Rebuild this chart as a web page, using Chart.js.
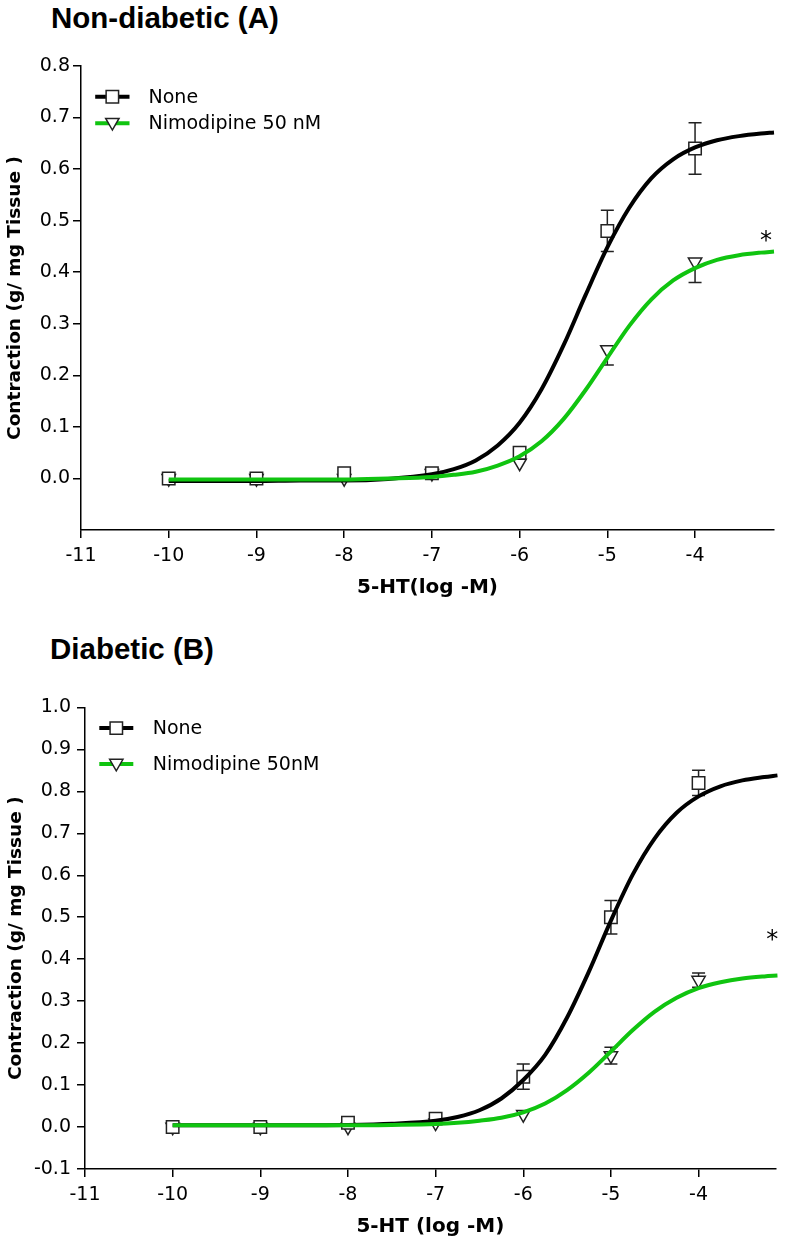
<!DOCTYPE html>
<html lang="en">
<head>
  <title>5-HT contraction curves</title>
  <meta charset="utf-8">
  <script src="https://cdn.jsdelivr.net/npm/chart.js@4.4.1/dist/chart.umd.min.js"></script>
  <style>
    body { margin: 0; background: #fff; width: 786px; height: 1242px; position: relative; overflow: hidden; }
    .ttl { position: absolute; margin: 0; font: bold 29.5px "Liberation Sans", Arial, sans-serif; line-height: 29px; color: #000; }
    .box { position: absolute; left: 0; width: 786px; }
  </style>
</head>
<body>

  <h2 class="ttl" style="left: 51px; top: 3px;">Non-diabetic (A)</h2>
  <div class="box" style="top: 50px; height: 566px;"><canvas id="chartA" width="786" height="566"></canvas></div>

  <h2 class="ttl" style="left: 50px; top: 634px;">Diabetic (B)</h2>
  <div class="box" style="top: 690px; height: 552px;"><canvas id="chartB" width="786" height="552"></canvas></div>

  <script>
    // concentrations tested (log M)
    var doses = [-10, -9, -8, -7, -6, -5, -4];

    // measured means / SEM, panel A (non-diabetic)
    var noneA = [0.0, 0.0, 0.01, 0.01, 0.05, 0.48, 0.64];
    var noneSemA = [0, 0, 0, 0, 0, 0.04, 0.05];
    var nimoA = [0.0, 0.0, 0.0, 0.01, 0.03, 0.25, 0.42];
    var nimoSemA = [0, 0, 0, 0, 0, 0.03, 0.04];

    // panel B (diabetic)
    var noneB = [0.0, 0.0, 0.01, 0.02, 0.12, 0.50, 0.82];
    var noneSemB = [0, 0, 0, 0, 0.03, 0.04, 0.03];
    var nimoB = [0.0, 0.0, 0.0, 0.01, 0.03, 0.17, 0.35];
    var nimoSemB = [0, 0, 0, 0, 0, 0.02, 0.017];

    // fitted curves
    var curveX = [-10, -9.5, -9, -8.5, -8, -7.5, -7, -6.75, -6.5, -6.25, -6, -5.75, -5.5, -5.25, -5, -4.75, -4.5, -4.25, -4, -3.75, -3.5, -3.25, -3.1];
    var fitNoneA = [-0.005, -0.005, -0.005, -0.004, -0.004, -0.001, 0.008, 0.018, 0.035, 0.064, 0.108, 0.173, 0.258, 0.355, 0.448, 0.525, 0.582, 0.619, 0.642, 0.656, 0.664, 0.669, 0.671];
    var fitNimoA = [-0.002, -0.002, -0.002, -0.002, -0.002, 0.000, 0.003, 0.007, 0.013, 0.025, 0.043, 0.072, 0.115, 0.171, 0.234, 0.296, 0.347, 0.384, 0.408, 0.424, 0.433, 0.438, 0.440];
    var fitNoneB = [0.004, 0.004, 0.004, 0.004, 0.005, 0.008, 0.015, 0.024, 0.040, 0.068, 0.112, 0.172, 0.261, 0.371, 0.492, 0.602, 0.688, 0.749, 0.788, 0.812, 0.826, 0.834, 0.838];
    var fitNimoB = [0.004, 0.004, 0.004, 0.004, 0.004, 0.005, 0.007, 0.010, 0.015, 0.022, 0.035, 0.056, 0.088, 0.130, 0.180, 0.231, 0.275, 0.308, 0.331, 0.345, 0.354, 0.359, 0.361];

    // significance marks (x, y in data units)
    var starA = [-3.19, 0.473];
    var starB = [-3.16, 0.461];

    var xTicks = [-11, -10, -9, -8, -7, -6, -5, -4];

    var GREEN = '#10c410';
    var EDGE = '#222';

    Chart.defaults.font.family = '"DejaVu Sans", sans-serif';
    Chart.defaults.color = '#000';

    function pts(xs, ys) {
      return xs.map(function(x, i) { return {x: x, y: ys[i]}; });
    }

    function marker(ctx, style, x, y, r) {
      ctx.beginPath();
      if (style === 'rect') {
        var s = r * Math.SQRT1_2;
        ctx.rect(x - s, y - s, 2 * s, 2 * s);
      } else { // upside-down triangle
        ctx.moveTo(x, y + r);
        ctx.lineTo(x - r * 0.866, y - r / 2);
        ctx.lineTo(x + r * 0.866, y - r / 2);
        ctx.closePath();
      }
      ctx.fillStyle = '#fff';
      ctx.fill();
      ctx.lineWidth = 1.5;
      ctx.strokeStyle = EDGE;
      ctx.stroke();
    }

    // SEM bars, drawn under the symbols
    var errorBars = {
      id: 'errorBars',
      beforeDatasetsDraw: function(chart) {
        var ctx = chart.ctx, x = chart.scales.x, y = chart.scales.y;
        chart.data.datasets.forEach(function(ds) {
          if (!ds.sem) return;
          ctx.save();
          ctx.strokeStyle = EDGE;
          ctx.lineWidth = 1.5;
          ds.data.forEach(function(p, i) {
            var s = ds.sem[i];
            if (!s) return;
            var px = x.getPixelForValue(p.x);
            var top = y.getPixelForValue(ds.belowOnly ? p.y : p.y + s);
            var bot = y.getPixelForValue(p.y - s);
            ctx.beginPath();
            ctx.moveTo(px, top); ctx.lineTo(px, bot);
            ctx.moveTo(px - 6.5, bot); ctx.lineTo(px + 6.5, bot);
            if (!ds.belowOnly) { ctx.moveTo(px - 6.5, top); ctx.lineTo(px + 6.5, top); }
            ctx.stroke();
          });
          ctx.restore();
        });
      }
    };

    // legend in the top left corner: line + symbol + label
    var symbolLegend = {
      id: 'symbolLegend',
      afterDraw: function(chart, args, opts) {
        var ctx = chart.ctx, a = chart.chartArea;
        var items = chart.data.datasets.filter(function(ds) { return ds.sem; });
        ctx.save();
        items.forEach(function(ds, i) {
          var yy = a.top + opts.rows[i];
          ctx.beginPath();
          ctx.moveTo(a.left + opts.x0, yy);
          ctx.lineTo(a.left + opts.x1, yy);
          ctx.lineWidth = 4;
          ctx.strokeStyle = ds.lineColor;
          ctx.stroke();
          var my = ds.pointStyle === 'rect' ? yy : yy - 1;
          marker(ctx, ds.pointStyle, a.left + (opts.x0 + opts.x1) / 2, my, ds.pointRadius);
          ctx.fillStyle = '#000';
          ctx.font = '19px "DejaVu Sans"';
          ctx.textBaseline = 'middle';
          ctx.textAlign = 'left';
          ctx.fillText(ds.label, a.left + opts.tx, yy + 1);
        });
        ctx.restore();
      }
    };

    var sigMark = {
      id: 'sigMark',
      afterDraw: function(chart, args, opts) {
        var ctx = chart.ctx;
        var px = chart.scales.x.getPixelForValue(opts.at[0]);
        var py = chart.scales.y.getPixelForValue(opts.at[1]);
        ctx.save();
        ctx.font = '24px "DejaVu Sans"';
        ctx.fillStyle = '#000';
        ctx.textAlign = 'center';
        ctx.textBaseline = 'alphabetic';
        ctx.fillText('*', px, py + 13);
        ctx.restore();
      }
    };

    function makeChart(id, p) {
      var ctx = document.getElementById(id).getContext('2d');
      return new Chart(ctx, {
        type: 'line',
        data: {
          datasets: [
            { label: 'fit nimo', data: pts(curveX, p.fitNimo), borderColor: GREEN, borderWidth: 4,
              pointRadius: 0, cubicInterpolationMode: 'monotone', fill: false, clip: 6 },
            { label: 'fit none', data: pts(curveX, p.fitNone), borderColor: '#000', borderWidth: 4,
              pointRadius: 0, cubicInterpolationMode: 'monotone', fill: false, clip: 6 },
            { label: 'None', data: pts(doses, p.none), sem: p.noneSem, lineColor: '#000',
              showLine: false, pointStyle: 'rect', pointRadius: 8.8, pointBorderWidth: 1.5,
              pointBorderColor: EDGE, pointBackgroundColor: '#fff' },
            { label: p.nimoLabel, data: pts(doses, p.nimo), sem: p.nimoSem, belowOnly: p.belowOnly,
              lineColor: GREEN, showLine: false, pointStyle: 'triangle', rotation: 180, pointRadius: 7.7,
              pointBorderWidth: 1.5, pointBorderColor: EDGE, pointBackgroundColor: '#fff' }
          ]
        },
        options: {
          responsive: false,
          animation: false,
          layout: { padding: { top: p.padTop, right: p.padRight, left: 0, bottom: 0 } },
          scales: {
            x: {
              type: 'linear', min: -11, max: p.xMax,
              afterFit: function(s) { s.height = p.xHeight; },
              afterBuildTicks: function(s) { s.ticks = xTicks.map(function(v) { return {value: v}; }); },
              border: { color: '#000', width: 1.5 },
              grid: { drawOnChartArea: false, tickLength: 8, color: '#000', lineWidth: 1.5 },
              ticks: { font: { size: 19 }, padding: 7, callback: function(v) { return String(v); } },
              title: { display: true, text: p.xTitle, font: { size: 20, weight: 'bold' },
                       padding: { top: 0, bottom: p.xTitlePad } }
            },
            y: {
              type: 'linear', min: p.yMin, max: p.yMax,
              afterFit: function(s) { s.width = p.yWidth; },
              afterBuildTicks: function(s) { s.ticks = p.yTicks.map(function(v) { return {value: v}; }); },
              border: { color: '#000', width: 1.5 },
              grid: { drawOnChartArea: false, tickLength: 8, color: '#000', lineWidth: 1.5 },
              ticks: { font: { size: 19 }, padding: p.yPad, callback: function(v) { return v.toFixed(1); } },
              title: { display: true, text: 'Contraction (g/ mg Tissue )', font: { size: 18.5, weight: 'bold' },
                       padding: { top: p.yTitlePad, bottom: 0 } }
            }
          },
          plugins: {
            legend: { display: false },
            tooltip: { enabled: false },
            symbolLegend: p.legend,
            sigMark: { at: p.star }
          }
        },
        plugins: [errorBars, symbolLegend, sigMark]
      });
    }

    makeChart('chartA', {
      none: noneA, noneSem: noneSemA, nimo: nimoA, nimoSem: nimoSemA, belowOnly: true,
      fitNone: fitNoneA, fitNimo: fitNimoA, star: starA,
      nimoLabel: 'Nimodipine 50 nM', xTitle: '5-HT(log -M)',
      yMin: -0.1, yMax: 0.8, yTicks: [0, 0.1, 0.2, 0.3, 0.4, 0.5, 0.6, 0.7, 0.8], xMax: -3.1,
      padTop: 16, padRight: 12, yWidth: 81, xHeight: 86, yPad: 3, xTitlePad: 16, yTitlePad: 4,
      legend: { rows: [30.7, 57.3], x0: 14.2, x1: 48.5, tx: 67.5 }
    });

    makeChart('chartB', {
      none: noneB, noneSem: noneSemB, nimo: nimoB, nimoSem: nimoSemB, belowOnly: false,
      fitNone: fitNoneB, fitNimo: fitNimoB, star: starB,
      nimoLabel: 'Nimodipine 50nM', xTitle: '5-HT (log -M)',
      yMin: -0.1, yMax: 1.0, yTicks: [-0.1, 0, 0.1, 0.2, 0.3, 0.4, 0.5, 0.6, 0.7, 0.8, 0.9, 1.0], xMax: -3.12,
      padTop: 15, padRight: 8, yWidth: 85, xHeight: 73, yPad: 6, xTitlePad: 3, yTitlePad: 5,
      legend: { rows: [20.7, 56.7], x0: 14.3, x1: 48.3, tx: 67.7 }
    });
  </script>

</body>
</html>
